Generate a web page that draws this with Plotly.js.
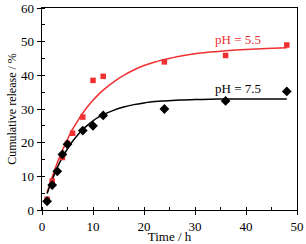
<!DOCTYPE html>
<html><head><meta charset="utf-8">
<script src="https://cdn.plot.ly/plotly-3.0.1.min.js"></script>
<style>html,body{margin:0;padding:0;background:#fff;}#chart{width:306px;height:244px;}</style>
</head><body><div id="chart"></div>
<script>
// Measured points
const tRed = [1, 2, 4, 5, 6, 8, 10, 12, 24, 36, 48];
const releaseRed = [3.2, 8.6, 15.6, 19.8, 22.8, 27.6, 38.5, 39.7, 44.0, 45.9, 49.0];
const tBlack = [1, 2, 3, 4, 5, 8, 10, 12, 24, 36, 48];
const releaseBlack = [2.6, 7.4, 11.5, 16.5, 19.5, 23.6, 25.0, 28.1, 30.0, 32.4, 35.2];
// Fitted curves
const tFit = [1, 2, 3, 4, 5, 6, 7, 8, 9, 10, 11, 12, 14, 16, 18, 20, 22, 24, 27, 30, 33, 36, 40, 44, 48];
const fitRed = [5.2, 9.8, 14.0, 17.7, 21.0, 24.0, 26.5, 28.8, 30.8, 32.6, 34.2, 35.6, 38.0, 40.0, 41.6, 42.9, 43.9, 44.7, 45.7, 46.4, 46.9, 47.3, 47.7, 48.0, 48.2];
const fitBlack = [4.9, 9.0, 12.6, 15.6, 18.2, 20.4, 22.3, 23.9, 25.3, 26.5, 27.5, 28.3, 29.6, 30.6, 31.3, 31.8, 32.2, 32.4, 32.7, 32.8, 32.9, 33.0, 33.0, 33.0, 33.0];
const labelRed = 'pH = 5.5';
const labelBlack = 'pH = 7.5';
const xTitle = 'Time / h';
const yTitle = 'Cumulative release / %';

const red = '#f03030';
const font = '"Liberation Serif", "Times New Roman", serif';

const data = [
  {x: tFit, y: fitRed, mode: 'lines', line: {color: red, width: 1.5, shape: 'spline', smoothing: 0.6}, hoverinfo: 'skip'},
  {x: tFit, y: fitBlack, mode: 'lines', line: {color: '#000', width: 1.5, shape: 'spline', smoothing: 0.6}, hoverinfo: 'skip'},
  {x: tRed, y: releaseRed, mode: 'markers', marker: {symbol: 'square', size: 5.5, color: red}},
  {x: tBlack, y: releaseBlack, mode: 'markers', marker: {symbol: 'diamond', size: 7.5, color: '#000'}}
];

const axisCommon = {
  showgrid: false, zeroline: false, showline: true, linecolor: '#000', linewidth: 1.3,
  mirror: true, ticks: 'outside', ticklen: 4, tickwidth: 1, tickcolor: '#000',
  tickfont: {family: font, size: 13, color: '#000'}
};

const layout = {
  width: 306, height: 244,
  margin: {l: 42, r: 9, t: 8, b: 34},
  paper_bgcolor: '#fff', plot_bgcolor: '#fff',
  showlegend: false,
  xaxis: Object.assign({}, axisCommon, {
    range: [0, 50], dtick: 10, tick0: 0,
    minor: {ticks: 'inside', dtick: 5, ticklen: 3, tickcolor: '#000', tickwidth: 1},
    title: {text: xTitle, font: {family: font, size: 13, color: '#000'}, standoff: 2}
  }),
  yaxis: Object.assign({}, axisCommon, {
    range: [0, 60], dtick: 10, tick0: 0,
    minor: {ticks: 'inside', dtick: 5, ticklen: 3, tickcolor: '#000', tickwidth: 1},
    title: {text: yTitle, font: {family: font, size: 12, color: '#000'}, standoff: 2}
  }),
  annotations: [
    {x: 38.5, y: 50.5, xref: 'x', yref: 'y', text: labelRed, showarrow: false,
     font: {family: font, size: 13, color: red}},
    {x: 38.5, y: 36.2, xref: 'x', yref: 'y', text: labelBlack, showarrow: false,
     font: {family: font, size: 13, color: '#000'}}
  ]
};

Plotly.newPlot('chart', data, layout, {staticPlot: true, displayModeBar: false});
</script>
</body></html>
